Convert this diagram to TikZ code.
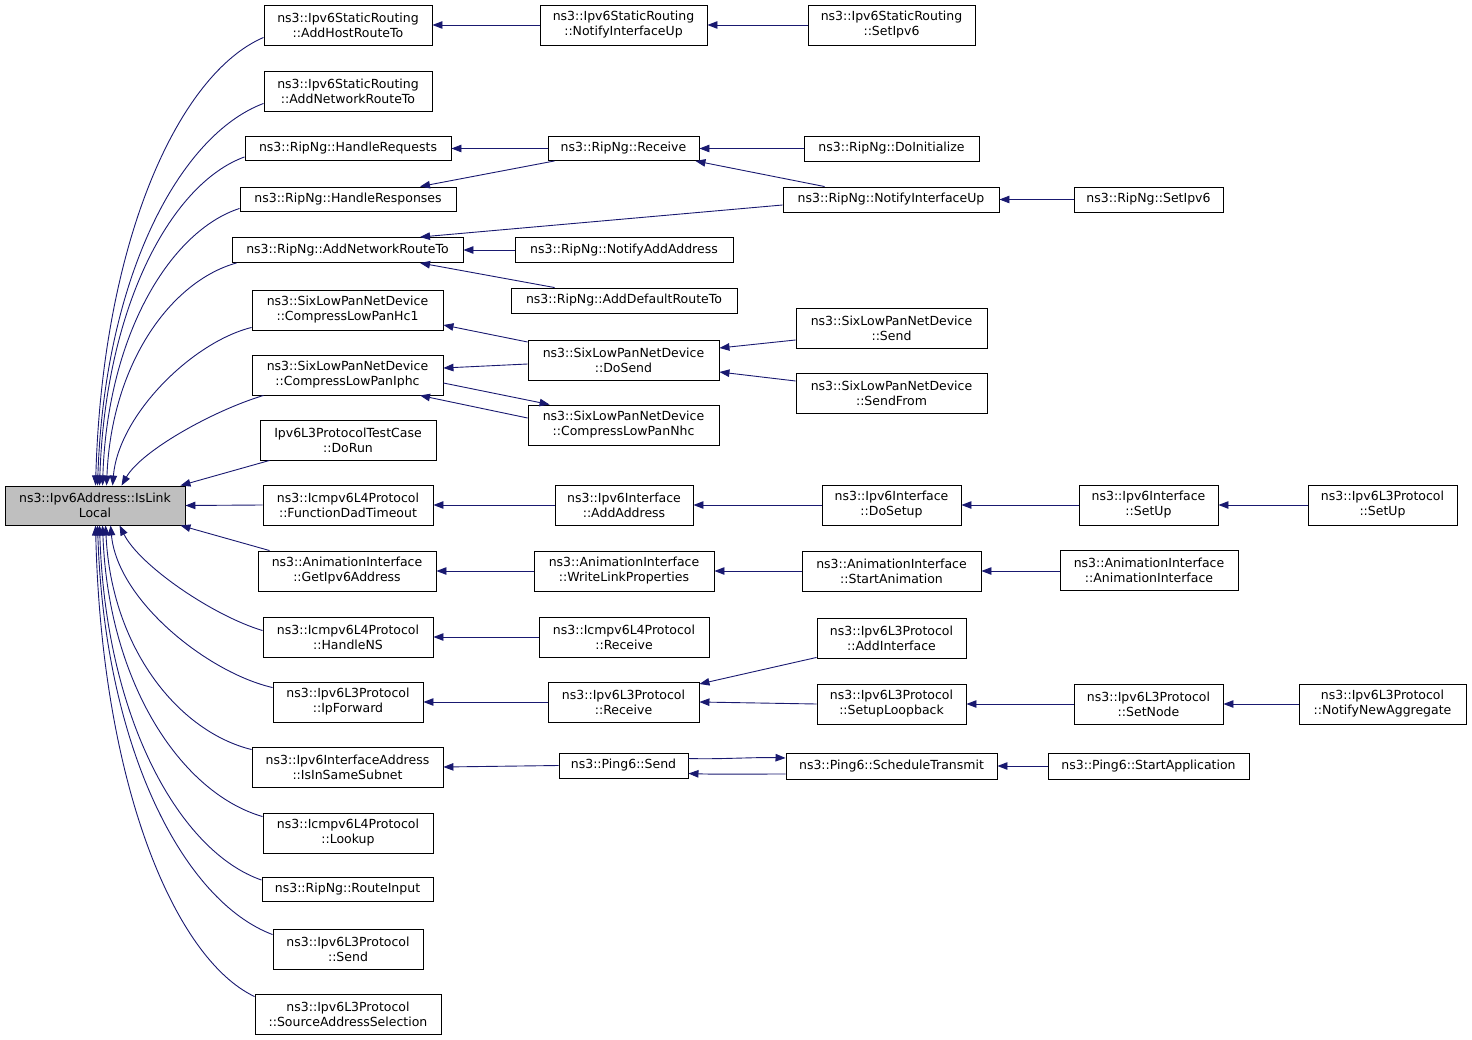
\documentclass[tikz,border=0pt]{standalone}
\usepackage{fontspec}
\setmainfont{DejaVu Sans}
\usetikzlibrary{arrows.meta,calc}
\definecolor{edgeblue}{HTML}{191970}
\definecolor{rootgray}{HTML}{BFBFBF}
\begin{document}
\begin{tikzpicture}[x=1pt,y=-1pt,
  fn/.style={draw=black, fill=white, line width=0.9pt, inner sep=0pt, align=center, font=\fontsize{12.5}{15}\selectfont},
  wh/.style 2 args={minimum width=#1pt, minimum height=#2pt},
  edge/.style={draw=edgeblue, line width=0.9pt, {Triangle[length=10pt,width=7.5pt]}-}]
\useasboundingbox (0,0) rectangle (1472,1040);
% root
\node[fn, wh={180}{39}, fill=rootgray] (root) at (95,505.5) {ns3::Ipv6Address::IsLink\\Local};
% column 1
\node[fn, wh={168}{40}] (n1) at (348,25) {ns3::Ipv6StaticRouting\\::AddHostRouteTo};
\node[fn, wh={168}{40}] (n2) at (348,91) {ns3::Ipv6StaticRouting\\::AddNetworkRouteTo};
\node[fn, wh={206}{24}] (n3) at (348,148.5) {ns3::RipNg::HandleRequests};
\node[fn, wh={216}{24}] (n4) at (348,199) {ns3::RipNg::HandleResponses};
\node[fn, wh={231}{25}] (n5) at (347.5,250) {ns3::RipNg::AddNetworkRouteTo};
\node[fn, wh={191}{40}] (n6) at (347.5,310) {ns3::SixLowPanNetDevice\\::CompressLowPanHc1};
\node[fn, wh={191}{40}] (n7) at (347.5,375) {ns3::SixLowPanNetDevice\\::CompressLowPanIphc};
\node[fn, wh={176}{40}] (n8) at (348,440) {Ipv6L3ProtocolTestCase\\::DoRun};
\node[fn, wh={170}{40}] (n9) at (348,505) {ns3::Icmpv6L4Protocol\\::FunctionDadTimeout};
\node[fn, wh={178}{40}] (n10) at (347,571) {ns3::AnimationInterface\\::GetIpv6Address};
\node[fn, wh={170}{40}] (n11) at (348,637) {ns3::Icmpv6L4Protocol\\::HandleNS};
\node[fn, wh={150}{40}] (n12) at (348,702) {ns3::Ipv6L3Protocol\\::IpForward};
\node[fn, wh={191}{40}] (n13) at (347.5,767) {ns3::Ipv6InterfaceAddress\\::IsInSameSubnet};
\node[fn, wh={170}{40}] (n14) at (348,833) {ns3::Icmpv6L4Protocol\\::Lookup};
\node[fn, wh={171}{24}] (n15) at (347.5,889.5) {ns3::RipNg::RouteInput};
\node[fn, wh={150}{40}] (n16) at (348,949) {ns3::Ipv6L3Protocol\\::Send};
\node[fn, wh={186}{40}] (n17) at (348,1014) {ns3::Ipv6L3Protocol\\::SourceAddressSelection};
% column 2
\node[fn, wh={167}{40}] (m1) at (623.5,25) {ns3::Ipv6StaticRouting\\::NotifyInterfaceUp};
\node[fn, wh={151}{24}] (m2) at (623.5,148.5) {ns3::RipNg::Receive};
\node[fn, wh={218}{25}] (m3) at (624,250) {ns3::RipNg::NotifyAddAddress};
\node[fn, wh={226}{25}] (m4) at (624,300.5) {ns3::RipNg::AddDefaultRouteTo};
\node[fn, wh={191}{40}] (m5) at (623.5,360) {ns3::SixLowPanNetDevice\\::DoSend};
\node[fn, wh={191}{40}] (m6) at (623.5,425) {ns3::SixLowPanNetDevice\\::CompressLowPanNhc};
\node[fn, wh={138}{40}] (m7) at (624,505) {ns3::Ipv6Interface\\::AddAddress};
\node[fn, wh={180}{40}] (m8) at (624,571) {ns3::AnimationInterface\\::WriteLinkProperties};
\node[fn, wh={170}{40}] (m9) at (624,637) {ns3::Icmpv6L4Protocol\\::Receive};
\node[fn, wh={151}{40}] (m10) at (623.5,702) {ns3::Ipv6L3Protocol\\::Receive};
\node[fn, wh={129}{25}] (m11) at (623.5,765.5) {ns3::Ping6::Send};
% column 3
\node[fn, wh={167}{40}] (k1) at (891.5,25) {ns3::Ipv6StaticRouting\\::SetIpv6};
\node[fn, wh={175}{25}] (k2) at (891.5,148.5) {ns3::RipNg::DoInitialize};
\node[fn, wh={216}{25}] (k3) at (891,199.5) {ns3::RipNg::NotifyInterfaceUp};
\node[fn, wh={191}{40}] (k4) at (891.5,328) {ns3::SixLowPanNetDevice\\::Send};
\node[fn, wh={191}{40}] (k5) at (891.5,393) {ns3::SixLowPanNetDevice\\::SendFrom};
\node[fn, wh={139}{40}] (k6) at (891.5,505) {ns3::Ipv6Interface\\::DoSetup};
\node[fn, wh={179}{40}] (k7) at (891.5,571) {ns3::AnimationInterface\\::StartAnimation};
\node[fn, wh={149}{40}] (k8) at (891.5,638) {ns3::Ipv6L3Protocol\\::AddInterface};
\node[fn, wh={149}{40}] (k9) at (891.5,704) {ns3::Ipv6L3Protocol\\::SetupLoopback};
\node[fn, wh={211}{26}] (k10) at (891.5,766) {ns3::Ping6::ScheduleTransmit};
% column 4
\node[fn, wh={149}{25}] (p1) at (1148.5,199.5) {ns3::RipNg::SetIpv6};
\node[fn, wh={139}{40}] (p2) at (1148.5,505) {ns3::Ipv6Interface\\::SetUp};
\node[fn, wh={178}{40}] (p3) at (1149,570) {ns3::AnimationInterface\\::AnimationInterface};
\node[fn, wh={149}{40}] (p4) at (1148.5,704) {ns3::Ipv6L3Protocol\\::SetNode};
\node[fn, wh={201}{26}] (p5) at (1148.5,766) {ns3::Ping6::StartApplication};
% column 5
\node[fn, wh={149}{40}] (q1) at (1382.5,505) {ns3::Ipv6L3Protocol\\::SetUp};
\node[fn, wh={167}{40}] (q2) at (1382.5,704) {ns3::Ipv6L3Protocol\\::NotifyNewAggregate};

% edges into root (upper)
\draw[edge] ($(root.north west)+(91,0)$) .. controls +(7,-247) and +(-84,36) .. ($(n1.south west)+(0,-8)$);
\draw[edge] ($(root.north west)+(93,0)$) .. controls +(7,-211) and +(-83,31) .. ($(n2.south west)+(0,-8)$);
\draw[edge] ($(root.north west)+(95,0)$) .. controls +(6,-182) and +(-72,26) .. ($(n3.south west)+(0,-4)$);
\draw[edge] ($(root.north west)+(98,0)$) .. controls +(5,-153) and +(-68,22) .. ($(n4.south west)+(0,-3)$);
\draw[edge] ($(root.north west)+(102,0)$) .. controls +(5,-123) and +(-65,18) .. ($(n5.south west)+(5,0)$);
\draw[edge] ($(root.north west)+(108,0)$) .. controls +(6,-70) and +(-60,15) .. ($(n6.south west)+(0,-3)$);
\draw[edge] ($(root.north west)+(117,0)$) .. controls +(20,-35) and +(-50,15) .. ($(n7.south west)+(12,0)$);
\draw[edge] ($(root.north east)+(-5,0)$) -- ($(n8.south west)+(10,0)$);
\draw[edge] (root.east) -- (n9.west);
\draw[edge] ($(root.south east)+(-5,0)$) -- ($(n10.north west)+(12,0)$);
% edges into root (lower)
\draw[edge] ($(root.south west)+(115,0)$) .. controls +(20,40) and +(-50,-15) .. ($(n11.north west)+(0,14)$);
\draw[edge] ($(root.south west)+(106,0)$) .. controls +(7,75) and +(-65,-15) .. ($(n12.north west)+(0,6)$);
\draw[edge] ($(root.south west)+(101,0)$) .. controls +(6,123) and +(-73,-18) .. ($(n13.north west)+(0,3)$);
\draw[edge] ($(root.south west)+(98,0)$) .. controls +(6,160) and +(-80,-23) .. ($(n14.north west)+(0,4)$);
\draw[edge] ($(root.south west)+(95,0)$) .. controls +(6,195) and +(-81,-28) .. ($(n15.north west)+(0,3)$);
\draw[edge] ($(root.south west)+(93,0)$) .. controls +(7,225) and +(-88,-33) .. ($(n16.north west)+(0,6)$);
\draw[edge] ($(root.south west)+(91,0)$) .. controls +(6,259) and +(-80,-38) .. ($(n17.north west)+(0,3)$);

% other edges
\draw[edge] (n1.east) -- (m1.west);
\draw[edge] (m1.east) -- (k1.west);
\draw[edge] (n3.east) -- (m2.west);
\draw[edge] ($(n4.north)+(72,0)$) -- ($(m2.south west)+(7,0)$);
\draw[edge] (m2.east) -- (k2.west);
\draw[edge] ($(m2.south east)+(-4,0)$) -- ($(k3.north west)+(42,0)$);
\draw[edge] ($(n5.north)+(72.5,0)$) -- ($(k3.west)+(0,5.5)$);
\draw[edge] (k3.east) -- (p1.west);
\draw[edge] (n5.east) -- (m3.west);
\draw[edge] ($(n5.south)+(72.5,0)$) -- ($(m4.north west)+(44,0)$);
\draw[edge] ($(n6.east)+(0,15)$) -- ($(m5.west)+(0,-18)$);
\draw[edge] ($(n7.east)+(0,-7)$) -- ($(m5.west)+(0,4)$);
\draw[edge] ($(n7.south)+(72.5,0)$) -- ($(m6.west)+(0,-7)$);
\draw[edge] ($(m6.north west)+(22,0)$) -- ($(n7.east)+(0,8)$);
\draw[edge] ($(m5.east)+(0,-12)$) -- ($(k4.west)+(0,12)$);
\draw[edge] ($(m5.east)+(0,12)$) -- ($(k5.west)+(0,-12)$);
\draw[edge] (n9.east) -- (m7.west);
\draw[edge] (m7.east) -- (k6.west);
\draw[edge] (k6.east) -- (p2.west);
\draw[edge] (p2.east) -- (q1.west);
\draw[edge] (n10.east) -- (m8.west);
\draw[edge] (m8.east) -- (k7.west);
\draw[edge] (k7.east) -- (p3.west |- k7.east);
\draw[edge] (n11.east) -- (m9.west);
\draw[edge] (n12.east) -- (m10.west);
\draw[edge] ($(m10.east)+(0,-18)$) -- ($(k8.south west)+(0,-1)$);
\draw[edge] (m10.east) -- (k9.west);
\draw[edge] (k9.east) -- (p4.west);
\draw[edge] (p4.east) -- (q2.west);
\draw[edge] (n13.east) -- (m11.west);
\draw[edge] ($(k10.west)+(0,-8)$) .. controls +(-30,-1) and +(30,1) .. ($(m11.east)+(0,-7)$);
\draw[edge] ($(m11.east)+(0,8)$) .. controls +(30,1) and +(-30,0) .. ($(k10.west)+(0,8)$);
\draw[edge] (k10.east) -- (p5.west);
\end{tikzpicture}
\end{document}
